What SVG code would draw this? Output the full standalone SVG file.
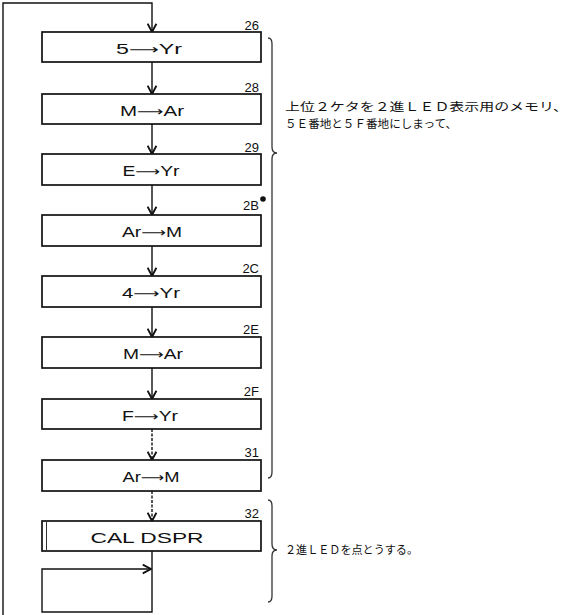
<svg xmlns="http://www.w3.org/2000/svg" width="584" height="615" viewBox="0 0 584 615">
<style>
.box{fill:#fff;stroke:#111;stroke-width:1.7}
.lbl{font-family:"Liberation Sans",Arial,sans-serif;font-size:14.5px;fill:#111;text-anchor:middle}
.ar{font-family:"DejaVu Sans",sans-serif;font-size:13px}
.num{font-family:"Liberation Sans",Arial,sans-serif;font-size:13px;fill:#111;text-anchor:end}
.jp{font-family:"Noto Sans CJK JP",sans-serif;font-size:11.5px;fill:#111}
.ln{fill:none;stroke:#111;stroke-width:1.4}
.br{fill:none;stroke:#333;stroke-width:1.3}
</style>
<defs>
<marker id="ah" markerWidth="11" markerHeight="11" refX="9" refY="5" orient="auto" markerUnits="userSpaceOnUse" viewBox="0 0 10 10">
<path d="M1.5,1 L9,5 L1.5,9" fill="none" stroke="#111" stroke-width="1.7"/>
</marker>
</defs>
<g id="connectors">
<path class="ln" d="M3,615 L3,3 L152,3 L152,32" marker-end="url(#ah)"/>
<path class="ln" d="M152,62 L152,94" marker-end="url(#ah)"/>
<path class="ln" d="M152,124 L152,154" marker-end="url(#ah)"/>
<path class="ln" d="M152,185 L152,215" marker-end="url(#ah)"/>
<path class="ln" d="M152,246 L152,276" marker-end="url(#ah)"/>
<path class="ln" d="M152,307 L152,337" marker-end="url(#ah)"/>
<path class="ln" d="M152,368 L152,399" marker-end="url(#ah)"/>
<path class="ln" d="M152,429 L152,460" stroke-dasharray="3 1.5" marker-end="url(#ah)"/>
<path class="ln" d="M152,491 L152,521" stroke-dasharray="3 1.5" marker-end="url(#ah)"/>
<path class="ln" d="M152,551 L152,612 L42,612 L42,569 L151,569" marker-end="url(#ah)"/>
</g>
<g id="n26"><rect class="box" x="42" y="32" width="219" height="30"/><text class="num" x="259" y="30">26</text><text class="lbl" x="149" y="54" textLength="66" lengthAdjust="spacingAndGlyphs">5<tspan class="ar">⟶</tspan>Yr</text></g>
<g id="n28"><rect class="box" x="42" y="94" width="219" height="30"/><text class="num" x="259" y="92">28</text><text class="lbl" x="152" y="116" textLength="64" lengthAdjust="spacingAndGlyphs">M<tspan class="ar">⟶</tspan>Ar</text></g>
<g id="n29"><rect class="box" x="42" y="154" width="219" height="31"/><text class="num" x="259" y="152">29</text><text class="lbl" x="151" y="176" textLength="57" lengthAdjust="spacingAndGlyphs">E<tspan class="ar">⟶</tspan>Yr</text></g>
<g id="n2B"><rect class="box" x="42" y="215" width="219" height="31"/><text class="num" x="259" y="210">2B</text><circle cx="263" cy="199" r="2.8" fill="#111"/><text class="lbl" x="152" y="237" textLength="60" lengthAdjust="spacingAndGlyphs">Ar<tspan class="ar">⟶</tspan>M</text></g>
<g id="n2C"><rect class="box" x="42" y="276" width="219" height="31"/><text class="num" x="259" y="273">2C</text><text class="lbl" x="151" y="298" textLength="58" lengthAdjust="spacingAndGlyphs">4<tspan class="ar">⟶</tspan>Yr</text></g>
<g id="n2E"><rect class="box" x="42" y="337" width="219" height="31"/><text class="num" x="259" y="334">2E</text><text class="lbl" x="153" y="359" textLength="60" lengthAdjust="spacingAndGlyphs">M<tspan class="ar">⟶</tspan>Ar</text></g>
<g id="n2F"><rect class="box" x="42" y="399" width="219" height="30"/><text class="num" x="259" y="396">2F</text><text class="lbl" x="150" y="421" textLength="56" lengthAdjust="spacingAndGlyphs">F<tspan class="ar">⟶</tspan>Yr</text></g>
<g id="n31"><rect class="box" x="42" y="460" width="219" height="31"/><text class="num" x="259" y="457">31</text><text class="lbl" x="151" y="482" textLength="57" lengthAdjust="spacingAndGlyphs">Ar<tspan class="ar">⟶</tspan>M</text></g>
<g id="n32"><rect class="box" x="42" y="521" width="219" height="30"/><line x1="46.5" y1="521" x2="46.5" y2="551" stroke="#333" stroke-width="1"/><text class="num" x="259" y="518">32</text><text class="lbl" x="147" y="543" textLength="113" lengthAdjust="spacingAndGlyphs">CAL  DSPR</text></g>
<g id="note1">
<path class="br" d="M268,38 Q272,38 272,44 L272,147 Q272,153 277,153 Q272,153 272,159 L272,472 Q272,478 268,478"/>
<text class="jp" x="285" y="111" textLength="283" lengthAdjust="spacingAndGlyphs">上位２ケタを２進ＬＥＤ表示用のメモリ、</text>
<text class="jp" x="285" y="128" textLength="172" lengthAdjust="spacingAndGlyphs">５Ｅ番地と５Ｆ番地にしまって、</text>
</g>
<g id="note2">
<path class="br" d="M268,500 Q272,500 272,506 L272,544 Q272,550 277,550 Q272,550 272,556 L272,596 Q272,602 268,602"/>
<text class="jp" x="285" y="554" textLength="133" lengthAdjust="spacingAndGlyphs">２進ＬＥＤを点とうする。</text>
</g>
</svg>
